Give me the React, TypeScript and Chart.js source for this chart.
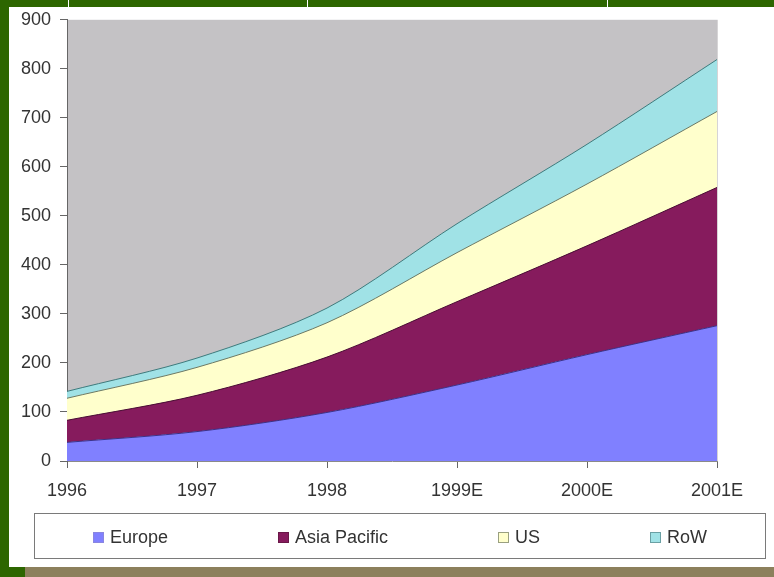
import React, { useEffect, useRef } from "react";
import { Chart, registerables } from "chart.js";

Chart.register(...registerables);

const years = ["1996", "1997", "1998", "1999E", "2000E", "2001E"];
const europe = [38, 60, 99, 155, 217, 276];
const asiaPacific = [45, 74, 113, 170, 222, 282];
const us = [45, 57, 70, 100, 126, 155];
const row = [14, 19, 30, 59, 81, 106];
const yTicks = [0, 100, 200, 300, 400, 500, 600, 700, 800, 900];

const seriesNames = ["Europe", "Asia Pacific", "US", "RoW"];
const seriesFill = ["#8080ff", "#861b5d", "#ffffcc", "#a0e2e6"];
const seriesLine = ["#3c3088", "#4a0e34", "#6a7a66", "#3f7a7c"];
const seriesSquareBorder = ["#8a86e0", "#6a1848", "#9aa080", "#6aa0a4"];

const FONT = "'Liberation Sans', Arial, sans-serif";

const plotBg = {
  id: "plotBg",
  beforeDraw(chart: any) {
    const { ctx, chartArea } = chart;
    ctx.save();
    ctx.fillStyle = "#c4c2c5";
    ctx.fillRect(chartArea.left, chartArea.top, chartArea.right - chartArea.left, chartArea.bottom - chartArea.top);
    ctx.strokeStyle = "#d6d4d6";
    ctx.lineWidth = 1;
    ctx.beginPath();
    ctx.moveTo(chartArea.right + 0.5, chartArea.top);
    ctx.lineTo(chartArea.right + 0.5, chartArea.bottom);
    ctx.stroke();
    ctx.restore();
  },
};

export default function App() {
  const ref = useRef<HTMLCanvasElement | null>(null);

  useEffect(() => {
    if (!ref.current) return;
    const values = [europe, asiaPacific, us, row];
    const chart = new Chart(ref.current, {
      type: "line",
      data: {
        labels: years,
        datasets: values.map((d, i) => ({
          label: seriesNames[i],
          data: d,
          backgroundColor: seriesFill[i],
          borderColor: seriesLine[i],
          borderWidth: 1,
          pointRadius: 0,
          tension: 0.3,
          fill: i === 0 ? "origin" : "-1",
        })),
      },
      options: {
        animation: false,
        responsive: false,
        maintainAspectRatio: false,
        layout: { padding: { left: 0, right: 57, top: 18, bottom: 0 } },
        plugins: { legend: { display: false }, tooltip: { enabled: false } },
        scales: {
          x: {
            offset: false,
            grid: { drawOnChartArea: false, drawTicks: true, tickLength: 7, color: "#666" },
            border: { display: true, color: "#8a8a8a" },
            ticks: { color: "#333", font: { family: FONT, size: 18 }, padding: 12, maxRotation: 0, autoSkip: false },
            afterFit(scale: any) {
              scale.height = 49;
            },
          },
          y: {
            stacked: true,
            min: 0,
            max: 900,
            afterBuildTicks(scale: any) {
              scale.ticks = yTicks.map((v) => ({ value: v }));
            },
            grid: { drawOnChartArea: false, drawTicks: true, tickLength: 7, color: "#666" },
            border: { display: true, color: "#666" },
            ticks: { color: "#333", font: { family: FONT, size: 18 }, padding: 9 },
            afterFit(scale: any) {
              scale.width = 67;
            },
          },
        },
      },
      plugins: [plotBg],
    });
    return () => chart.destroy();
  }, []);

  return (
    <div
      style={{
        position: "fixed",
        left: 0,
        top: 0,
        width: 774,
        height: 577,
        background: "#ffffff",
        overflow: "hidden",
        fontFamily: FONT,
      }}
    >
      <canvas ref={ref} width={774} height={510} style={{ position: "absolute", left: 0, top: 0, width: 774, height: 510 }} />
      <div style={{ position: "absolute", left: 0, top: 0, width: 774, height: 7, background: "#2d6600" }} />
      {[68, 307, 607].map((x) => (
        <div key={x} style={{ position: "absolute", left: x, top: 0, width: 1, height: 7, background: "#ffffff" }} />
      ))}
      <div style={{ position: "absolute", left: 0, top: 0, width: 9, height: 577, background: "#2d6600" }} />
      <div style={{ position: "absolute", left: 0, top: 567, width: 25, height: 10, background: "#2d6600" }} />
      <div style={{ position: "absolute", left: 25, top: 567, width: 749, height: 10, background: "#8c805c" }} />
      <div
        style={{
          position: "absolute",
          left: 34,
          top: 513,
          width: 730,
          height: 41,
          border: "1px solid #7a7a7a",
          display: "flex",
          justifyContent: "center",
          alignItems: "center",
          gap: 110,
          paddingTop: 3,
          boxSizing: "content-box",
        }}
      >
        {seriesNames.map((n, i) => (
          <div key={n} style={{ display: "flex", alignItems: "center", color: "#333", fontSize: 18 }}>
            <span
              style={{
                display: "inline-block",
                width: 9,
                height: 9,
                background: seriesFill[i],
                border: `1px solid ${seriesSquareBorder[i]}`,
                marginRight: 6,
              }}
            />
            <span>{n}</span>
          </div>
        ))}
      </div>
    </div>
  );
}
